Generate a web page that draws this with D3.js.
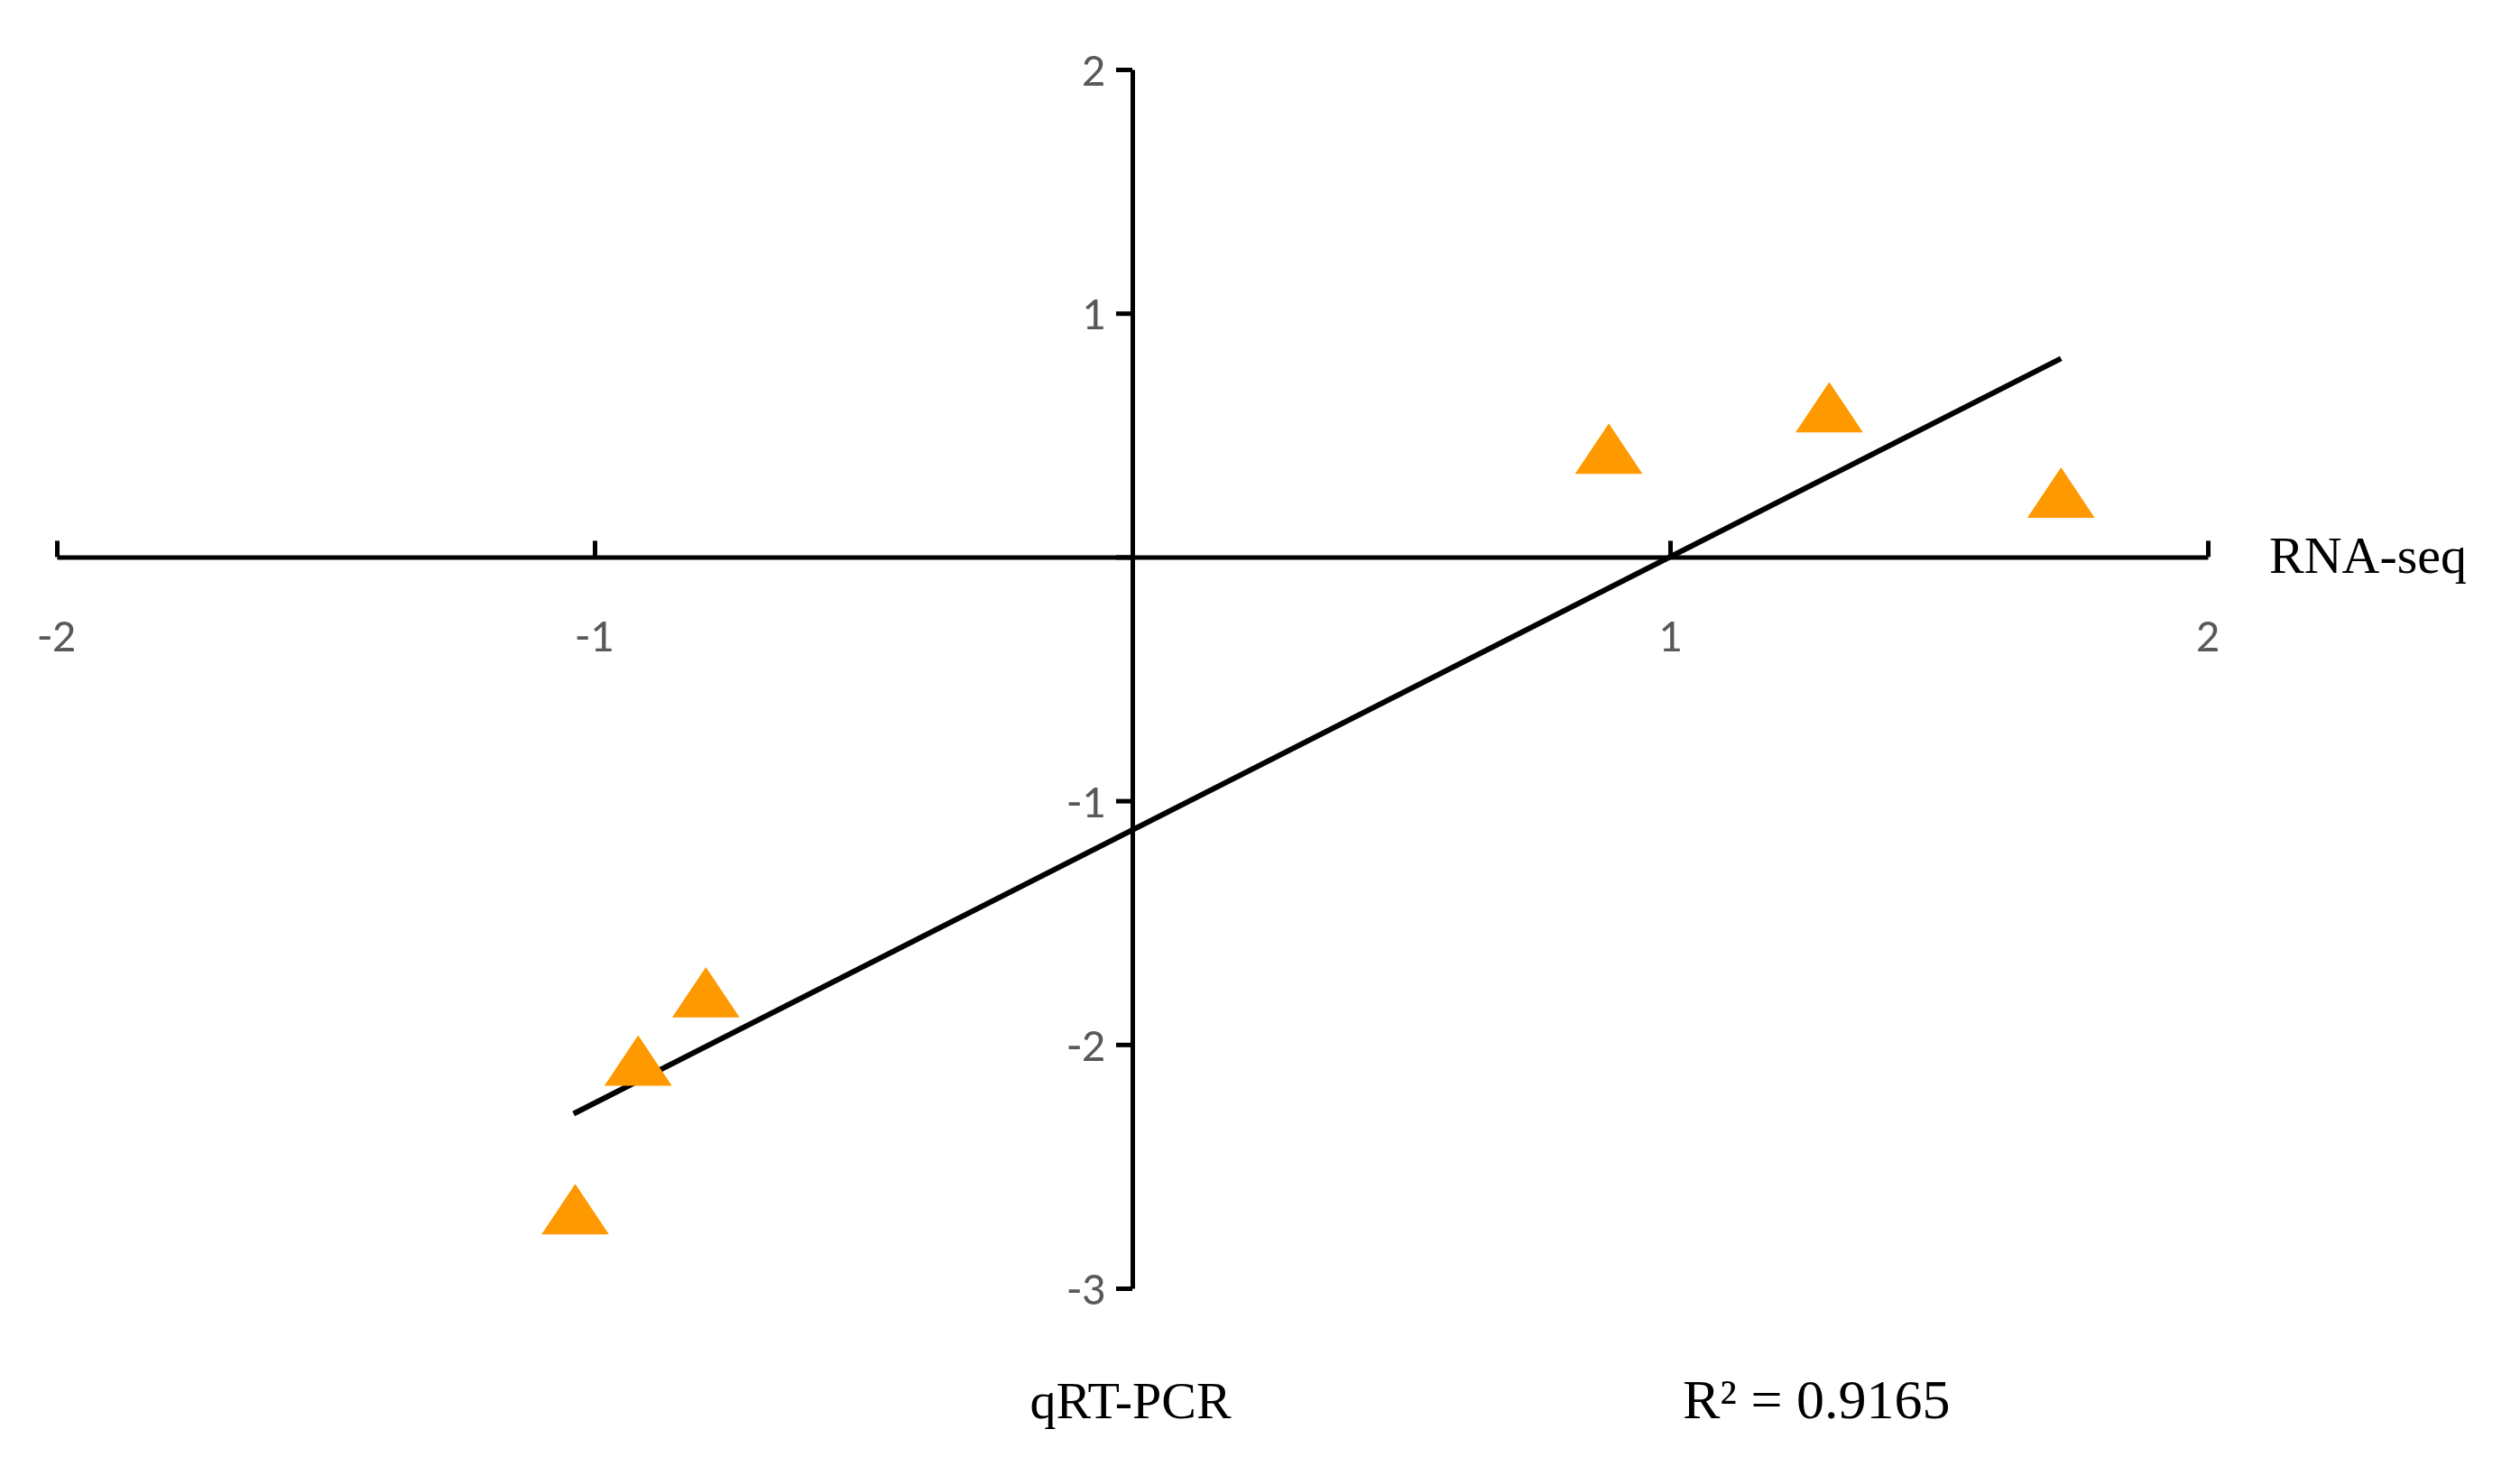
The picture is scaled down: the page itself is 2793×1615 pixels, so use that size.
<!DOCTYPE html>
<html><head><meta charset="utf-8">
<script src="https://cdn.jsdelivr.net/npm/d3@7"></script>
<style>body{margin:0;background:#fff}</style></head>
<body><svg id="chart" width="2793" height="1615"></svg>
<script>
var rnaSeq = [0.886, 1.296, 1.727, -0.793, -0.919, -1.036];
var qrtPcr = [0.41, 0.58, 0.23, -1.82, -2.10, -2.71];
var xTicks = [-2, -1, 0, 1, 2];
var yTicks = [2, 1, 0, -1, -2, -3];
var trendSlope = 1.12, trendIntercept = -1.12;
var trendX = [-1.039, 1.727];

var svg = d3.select("#chart");
var x = d3.scaleLinear().domain([-2, 2]).range([63, 2447]);
var y = d3.scaleLinear().domain([2, -3]).range([77, 1428]);
var tickFont = "Calibri, Carlito, 'Open Sans', sans-serif";
var serif = "'Liberation Serif', 'Times New Roman', serif";

// horizontal axis (ticks up)
var gx = svg.append("g").attr("transform", "translate(0," + y(0) + ")")
    .call(d3.axisTop(x).tickValues(xTicks).tickSize(18).tickSizeOuter(0).tickFormat(""));
gx.selectAll("path,line").attr("stroke", "#000").attr("stroke-width", 5);
svg.selectAll(".xlab").data(xTicks.filter(function(d){ return d != 0; })).enter().append("text")
    .attr("x", function(d){ return x(d); }).attr("y", y(0) + 105)
    .attr("text-anchor", "middle").attr("font-family", tickFont).attr("font-size", 52)
    .attr("fill", "#595959").text(function(d){ return d; });

// vertical axis (ticks left)
var gy = svg.append("g").attr("transform", "translate(" + x(0) + ",0)")
    .call(d3.axisLeft(y).tickValues(yTicks).tickSize(18).tickSizeOuter(0).tickFormat(""));
gy.selectAll("path,line").attr("stroke", "#000").attr("stroke-width", 5);
svg.selectAll(".ylab").data(yTicks.filter(function(d){ return d != 0; })).enter().append("text")
    .attr("x", x(0) - 30).attr("y", function(d){ return y(d) + 18; })
    .attr("text-anchor", "end").attr("font-family", tickFont).attr("font-size", 52)
    .attr("fill", "#595959").text(function(d){ return d; });

// trendline
svg.append("line")
    .attr("x1", x(trendX[0])).attr("y1", y(trendSlope * trendX[0] + trendIntercept))
    .attr("x2", x(trendX[1])).attr("y2", y(trendSlope * trendX[1] + trendIntercept))
    .attr("stroke", "#000").attr("stroke-width", 6);

// points
var tri = d3.symbol().type(d3.symbolTriangle).size(2000);
svg.selectAll(".pt").data(rnaSeq).enter().append("path")
    .attr("d", tri)
    .attr("transform", function(d, i){ return "translate(" + x(d) + "," + y(qrtPcr[i]) + ") scale(1.1,0.95)"; })
    .attr("fill", "#ff9900");

svg.append("text").attr("x", 2515).attr("y", 635).attr("font-family", serif).attr("font-size", 58).text("RNA-seq");
svg.append("text").attr("x", 1253).attr("y", 1572).attr("text-anchor", "middle").attr("font-family", serif).attr("font-size", 58).text("qRT-PCR");
svg.append("text").attr("x", 1865).attr("y", 1572).attr("font-family", serif).attr("font-size", 62).text("R² = 0.9165");
</script></body></html>
